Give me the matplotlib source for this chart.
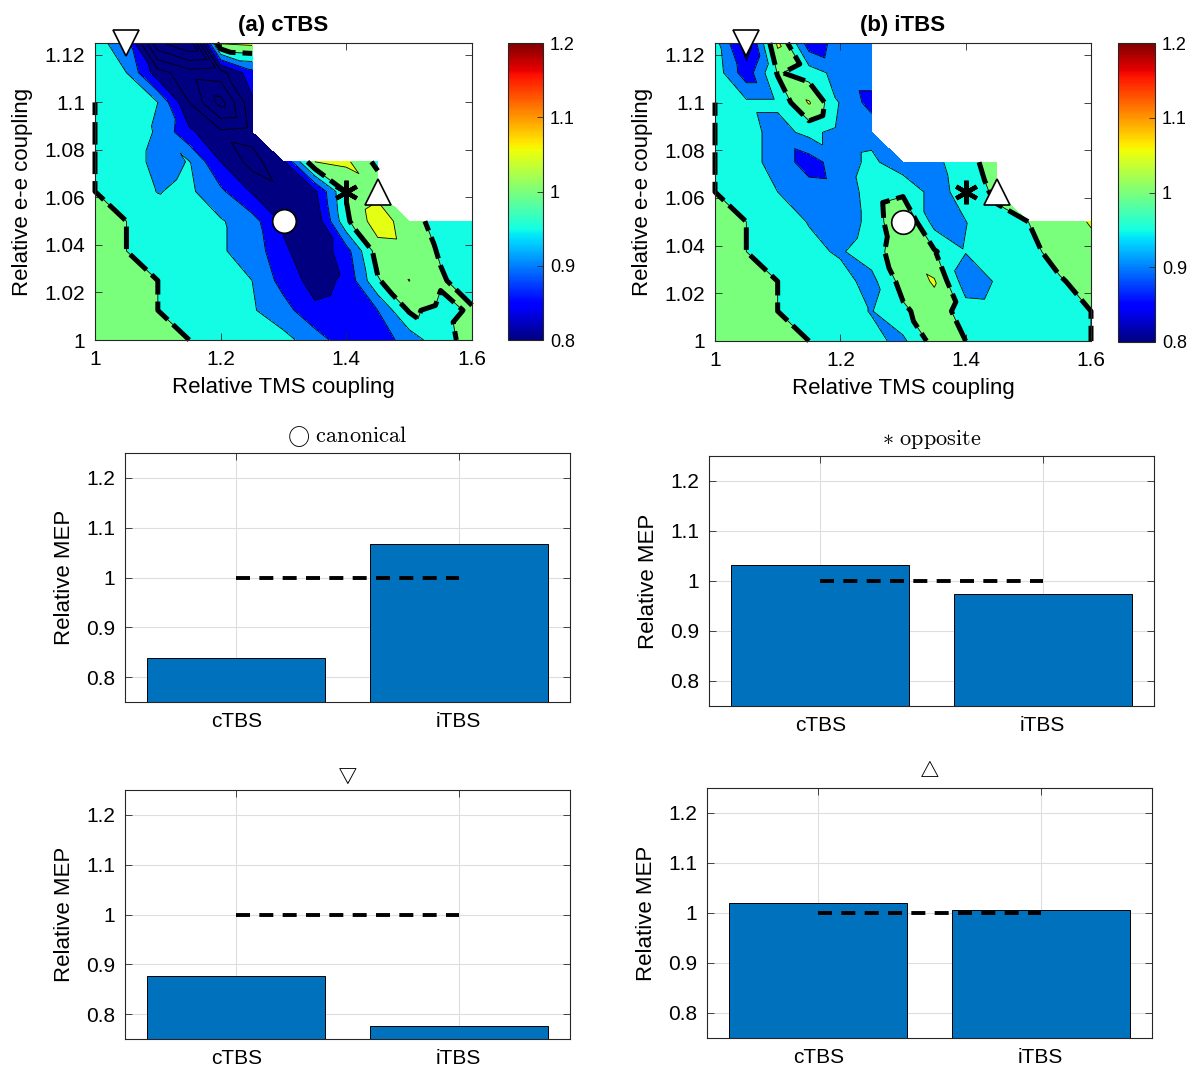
import numpy as np
import matplotlib
matplotlib.use("Agg")
import matplotlib.pyplot as plt
import matplotlib.tri as mtri
from matplotlib.cm import ScalarMappable
from matplotlib.colors import Normalize

plt.rcParams['font.family'] = ['Liberation Sans', 'DejaVu Sans']
plt.rcParams['mathtext.fontset'] = 'cm'

nan = np.nan

# grid of the maps
tms_coupling = [1.0, 1.05, 1.1, 1.15, 1.2, 1.25, 1.3, 1.35, 1.4, 1.45, 1.5, 1.55, 1.6]
ee_coupling = [1.0, 1.0125, 1.025, 1.0375, 1.05, 1.0625, 1.075, 1.0875, 1.1, 1.1125, 1.125]

# relative MEP, rows = e-e coupling (bottom to top), cols = TMS coupling
mep_ctbs = [
    [1.02, 1.015, 1.005, 1.0, 0.975, 0.97, 0.965, 0.925, 0.87, 0.875, 0.92, 0.985, 1.015],
    [1.02, 1.01, 1.0, 0.975, 0.965, 0.955, 0.92, 0.86, 0.87, 0.9, 1.006, 0.99, 1.004],
    [1.015, 1.005, 1.0, 0.975, 0.965, 0.95, 0.88, 0.83, 0.86, 0.995, 1.051, 1.005, 0.98],
    [1.01, 1.0, 0.985, 0.97, 0.955, 0.93, 0.86, 0.81, 0.88, 1.025, 1.03, 0.995, 0.98],
    [1.005, 1.0, 0.98, 0.97, 0.955, 0.92, 0.84, 0.81, 0.99, 1.08, 1.02, 0.98, 0.995],
    [1.0, 0.98, 0.948, 0.96, 0.91, 0.845, 0.81, 0.84, 1.005, 1.035, nan, nan, nan],
    [1.0, 0.975, 0.935, 0.952, 0.85, 0.78, 0.84, 1.05, 1.06, 0.985, nan, nan, nan],
    [1.0, 0.975, 0.945, 0.86, 0.81, 0.82, nan, nan, nan, nan, nan, nan, nan],
    [1.0, 0.97, 0.95, 0.8, 0.68, 0.84, nan, nan, nan, nan, nan, nan, nan],
    [0.98, 0.95, 0.82, 0.77, 0.78, 0.88, nan, nan, nan, nan, nan, nan, nan],
    [0.97, 0.92, 0.66, 0.6, 1.055, 1.065, nan, nan, nan, nan, nan, nan, nan],
]
mep_itbs = [
    [1.02, 1.015, 1.01, 1.0, 0.975, 0.96, 0.94, 1.02, 1.0, 0.97, 0.975, 0.985, 1.0],
    [1.02, 1.015, 1.0, 0.975, 0.965, 0.948, 0.99, 1.03, 0.975, 0.97, 0.98, 0.99, 1.0],
    [1.015, 1.01, 1.0, 0.97, 0.965, 0.935, 1.02, 1.055, 0.92, 0.955, 0.98, 0.995, 1.02],
    [1.01, 1.0, 0.975, 0.96, 0.945, 0.975, 1.035, 1.005, 0.952, 0.97, 0.985, 1.02, 1.03],
    [1.01, 1.0, 0.97, 0.948, 0.92, 0.965, 1.055, 0.93, 0.949, 0.985, 1.0, 1.02, 1.055],
    [1.0, 0.975, 0.95, 0.925, 0.92, 0.97, 0.99, 0.93, 0.97, 1.01, nan, nan, nan],
    [1.0, 0.97, 0.93, 0.875, 0.93, 0.96, 0.92, 0.935, 0.985, 1.02, nan, nan, nan],
    [1.0, 0.97, 0.93, 0.965, 0.93, 0.935, nan, nan, nan, nan, nan, nan, nan],
    [1.0, 0.96, 0.96, 1.055, 0.945, 0.88, nan, nan, nan, nan, nan, nan, nan],
    [0.98, 0.87, 1.005, 0.975, 0.93, 0.93, nan, nan, nan, nan, nan, nan, nan],
    [0.97, 0.82, 1.06, 0.87, 0.92, 0.93, nan, nan, nan, nan, nan, nan, nan],
]

# marked protocols (TMS coupling, e-e coupling)
pt_canonical = (1.3, 1.05)
pt_opposite = (1.4, 1.0625)
pt_down = (1.05, 1.125)
pt_up = (1.45, 1.0625)

# bar panels
protocols = ['cTBS', 'iTBS']
bar_canonical = [0.838, 1.068]
bar_opposite = [1.032, 0.975]
bar_down = [0.877, 0.777]
bar_up = [1.021, 1.006]

W, H = 1190, 1069
fig = plt.figure(figsize=(W / 100, H / 100), dpi=100)
AXC = '0.15'


def px_axes(x0, y0, x1, y1):
    return fig.add_axes([x0 / W, 1 - y1 / H, (x1 - x0) / W, (y1 - y0) / H])


def matlab_style(ax):
    ax.tick_params(direction='in', top=True, right=True, length=5, width=0.6,
                   colors=AXC, labelcolor='black', pad=7)
    for s in ax.spines.values():
        s.set_color(AXC)
        s.set_linewidth(0.8)


def build_tri(z):
    z = np.array(z, dtype=float)
    ny, nx = z.shape
    idx = -np.ones((ny, nx), dtype=int)
    xs, ys, zs = [], [], []
    for j in range(ny):
        for i in range(nx):
            if np.isfinite(z[j, i]):
                idx[j, i] = len(xs)
                xs.append(tms_coupling[i])
                ys.append(ee_coupling[j])
                zs.append(z[j, i])
    tris = []
    for j in range(ny - 1):
        for i in range(nx - 1):
            a, b, c, d = idx[j, i], idx[j, i + 1], idx[j + 1, i], idx[j + 1, i + 1]
            if a >= 0 and b >= 0 and c >= 0:
                tris.append([a, b, c])
            if b >= 0 and d >= 0 and c >= 0:
                tris.append([b, d, c])
    return mtri.Triangulation(xs, ys, tris), np.array(zs)


levels = np.round(np.arange(0.5, 1.151, 0.05), 3)
jet = plt.get_cmap('jet')
band_colors = [jet(np.clip((lv - 0.8) / 0.4, 0, 1)) for lv in levels[:-1]]


def contour_panel(ax, z, title):
    tri, zz = build_tri(z)
    ax.tricontourf(tri, zz, levels=levels, colors=band_colors)
    ax.tricontour(tri, zz, levels=levels, colors='k', linewidths=0.6)
    cs = ax.tricontour(tri, zz, levels=[1.0], colors='k', linewidths=3.6,
                       linestyles=[(0, (4.5, 1.4))])
    cs.set_clip_on(False)
    ax.plot(*pt_down, marker='v', ms=19, mfc='white', mec='k', mew=1.2, clip_on=False, zorder=10)
    ax.plot(*pt_canonical, marker='o', ms=17, mfc='white', mec='k', mew=1.2, clip_on=False, zorder=10)
    ax.plot(*pt_opposite, marker=(6, 2, 0), ms=17, mec='k', mew=3.2, clip_on=False, zorder=10)
    ax.plot(*pt_up, marker='^', ms=19, mfc='white', mec='k', mew=1.2, clip_on=False, zorder=10)
    ax.set_xlim(1, 1.6)
    ax.set_ylim(1, 1.125)
    xt = [1, 1.2, 1.4, 1.6]
    yt = [1, 1.02, 1.04, 1.06, 1.08, 1.1, 1.12]
    ax.set_xticks(xt)
    ax.set_yticks(yt)
    ax.set_xticklabels(['%g' % v for v in xt], fontsize=15)
    ax.set_yticklabels(['%g' % v for v in yt], fontsize=15)
    ax.set_xlabel('Relative TMS coupling', fontsize=16, labelpad=6)
    ax.set_ylabel('Relative e-e coupling', fontsize=16, labelpad=8)
    ax.set_title(title, fontsize=16, fontweight='bold', pad=9)
    matlab_style(ax)


def colorbar_panel(cax):
    sm = ScalarMappable(norm=Normalize(0.8, 1.2), cmap='jet')
    cb = fig.colorbar(sm, cax=cax, ticks=[0.8, 0.9, 1.0, 1.1, 1.2])
    cb.ax.set_yticklabels(['0.8', '0.9', '1', '1.1', '1.2'], fontsize=13)
    cb.ax.tick_params(direction='in', length=4, width=0.6, colors=AXC,
                      labelcolor='black', pad=5)
    cb.outline.set_edgecolor(AXC)
    cb.outline.set_linewidth(0.8)


def bar_panel(ax, vals, title):
    ax.bar([1, 2], vals, width=0.8, color=(0, 0.447, 0.741), edgecolor='k',
           linewidth=0.7, zorder=2)
    ax.plot([1, 2], [1, 1], color='k', lw=2.8, dashes=(3.6, 2.4), zorder=3)
    ax.set_xlim(0.5, 2.5)
    ax.set_ylim(0.75, 1.25)
    ax.set_xticks([1, 2])
    ax.set_xticklabels(protocols, fontsize=15)
    yt = [0.8, 0.9, 1.0, 1.1, 1.2]
    ax.set_yticks(yt)
    ax.set_yticklabels(['%g' % v for v in yt], fontsize=15)
    ax.set_ylabel('Relative MEP', fontsize=16, labelpad=8)
    ax.grid(True, color='0.87', lw=0.8)
    ax.set_axisbelow(True)
    ax.set_title(title, fontsize=16, pad=8)
    matlab_style(ax)


ax_a = px_axes(95, 43, 472, 340)
contour_panel(ax_a, mep_ctbs, '(a) cTBS')
colorbar_panel(px_axes(508, 43, 543, 340))

ax_b = px_axes(715, 43, 1091, 341)
contour_panel(ax_b, mep_itbs, '(b) iTBS')
colorbar_panel(px_axes(1118, 43, 1155, 342))

bar_panel(px_axes(125, 453, 570, 702), bar_canonical, r'$\bigcirc\ \mathrm{canonical}$')
bar_panel(px_axes(709, 456, 1154, 706), bar_opposite, r'$\ast\ \mathrm{opposite}$')
bar_panel(px_axes(125, 790, 570, 1039), bar_down, r'$\bigtriangledown$')
bar_panel(px_axes(707, 788, 1152, 1038), bar_up, r'$\bigtriangleup$')

fig.savefig('out.png', dpi=100)
